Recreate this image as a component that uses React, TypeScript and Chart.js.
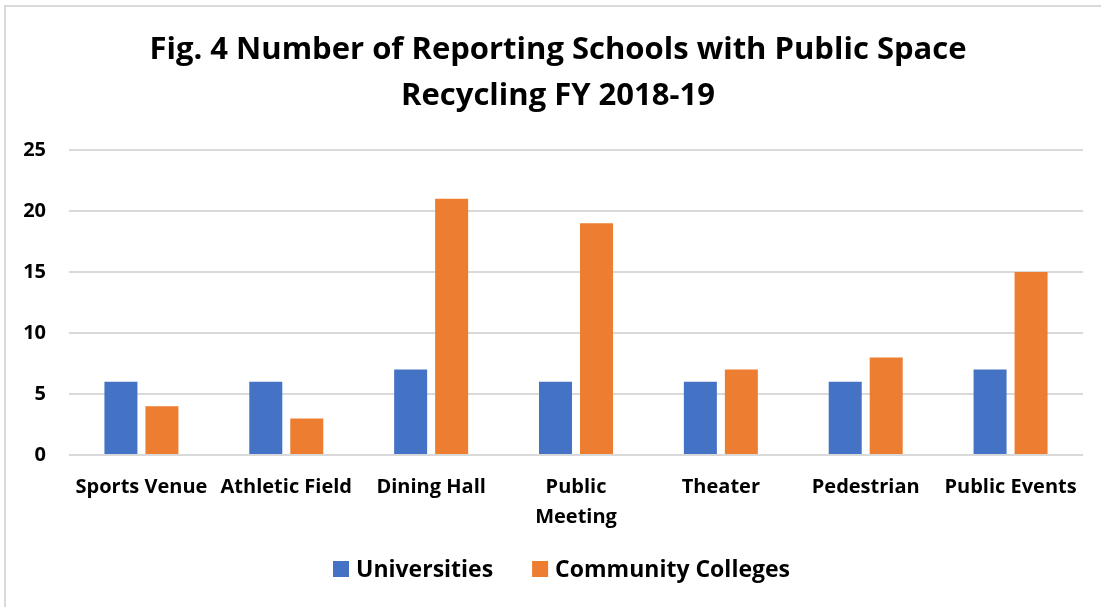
import React, { useEffect, useRef } from "react";
import { Chart, registerables } from "chart.js";

Chart.register(...registerables);

const categories: (string | string[])[] = [
  "Sports Venue",
  "Athletic Field",
  "Dining Hall",
  ["Public", "Meeting"],
  "Theater",
  "Pedestrian",
  "Public Events",
];
const seriesNames = ["Universities", "Community Colleges"];
const universities = [6, 6, 7, 6, 6, 6, 7];
const communityColleges = [4, 3, 21, 19, 7, 8, 15];
const seriesColors = ["#4472C4", "#ED7D31"];
const yTicks = [0, 5, 10, 15, 20, 25];
const titleLines = ["Fig. 4 Number of Reporting Schools with Public Space", "Recycling FY 2018-19"];

const FONT = "'Open Sans', sans-serif";

const titlePlugin = {
  id: "customTitle",
  afterDraw(chart: any) {
    const c = chart.ctx;
    c.save();
    c.fillStyle = "#000";
    c.font = `bold 31px ${FONT}`;
    c.textAlign = "center";
    c.textBaseline = "middle";
    c.fillText(titleLines[0], 558, 50);
    c.fillText(titleLines[1], 558, 96);
    c.restore();
  },
};

const legendPlugin = {
  id: "customLegend",
  afterDraw(chart: any) {
    const c = chart.ctx;
    c.save();
    c.font = `bold 23px ${FONT}`;
    c.textBaseline = "middle";
    c.textAlign = "left";
    const box = 16;
    const gap = 7;
    const itemGap = 39;
    const widths = chart.data.datasets.map((d: any) => c.measureText(d.label).width);
    const total = widths.reduce((a: number, w: number) => a + box + gap + w, 0) + itemGap * (widths.length - 1);
    let x = 561.5 - total / 2;
    const y = 569;
    chart.data.datasets.forEach((d: any, i: number) => {
      c.fillStyle = d.backgroundColor;
      c.fillRect(x, y - box / 2, box, box);
      x += box + gap;
      c.fillStyle = "#000";
      c.fillText(d.label, x, y + 1);
      x += widths[i] + itemGap;
    });
    c.restore();
  },
};

export default function App() {
  const ref = useRef<HTMLCanvasElement | null>(null);
  useEffect(() => {
    document.body.style.margin = "0";
    const ctx = ref.current!;
    const chart = new Chart(ctx, {
      type: "bar",
      data: {
        labels: categories,
        datasets: [
          { label: seriesNames[0], data: universities, backgroundColor: seriesColors[0] },
          { label: seriesNames[1], data: communityColleges, backgroundColor: seriesColors[1] },
        ],
      },
      plugins: [titlePlugin, legendPlugin],
      options: {
        responsive: false,
        animation: false,
        devicePixelRatio: 1,
        layout: { padding: { left: 18, right: 18, top: 150, bottom: 66 } },
        datasets: { bar: { categoryPercentage: 0.566, barPercentage: 0.805 } },
        plugins: {
          title: { display: false },
          legend: { display: false },
          tooltip: { enabled: false },
        },
        scales: {
          x: {
            grid: { display: false },
            border: { display: false },
            ticks: {
              color: "#000",
              font: { family: FONT, size: 20, weight: "bold", lineHeight: 1.5 },
              padding: 9,
              maxRotation: 0,
              autoSkip: false,
            },
          },
          y: {
            min: 0,
            max: 25,
            afterBuildTicks: (axis: any) => {
              axis.ticks = yTicks.map((v) => ({ value: v }));
            },
            afterFit: (axis: any) => {
              axis.width = 51;
            },
            grid: { color: "#d9d9d9", lineWidth: 2, drawTicks: false },
            border: { display: false },
            ticks: {
              color: "#000",
              font: { family: FONT, size: 20, weight: "bold" },
              padding: 23,
            },
          },
        },
      },
    });
    return () => chart.destroy();
  }, []);
  return (
    <div style={{ position: "fixed", left: 0, top: 0, width: 1101, height: 607, background: "#fff" }}>
      <div
        style={{
          position: "absolute",
          left: 4,
          top: 5,
          right: 0,
          bottom: 0,
          borderLeft: "2px solid #d9d9d9",
          borderTop: "2px solid #d9d9d9",
        }}
      />
      <canvas ref={ref} width={1101} height={607} style={{ position: "absolute", left: 0, top: 0 }} />
    </div>
  );
}
